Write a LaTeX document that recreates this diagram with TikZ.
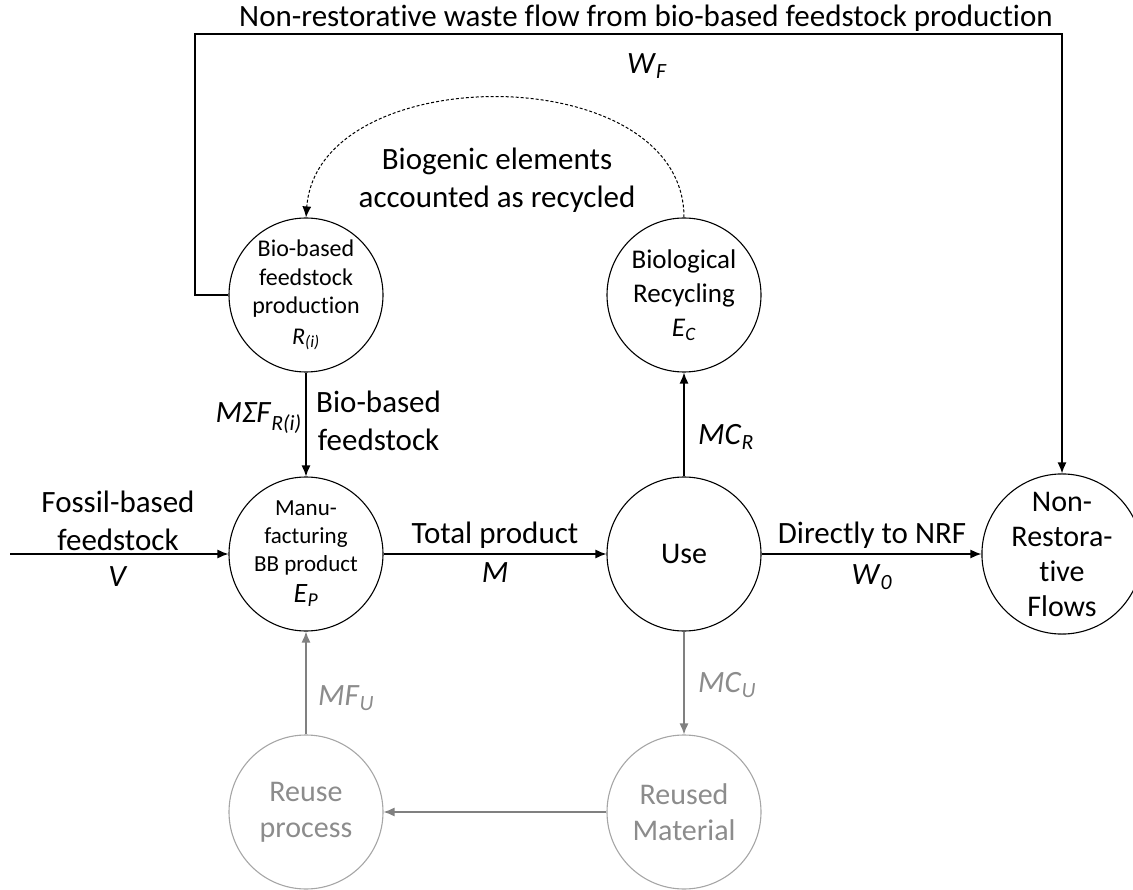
\documentclass[tikz,border=0pt]{standalone}
\usepackage{fontspec}
\setmainfont{Carlito}[Ligatures=NoCommon]
\usetikzlibrary{arrows.meta}
\definecolor{gryc}{HTML}{A6A6A6}
\definecolor{grya}{HTML}{808080}
\definecolor{gryt}{HTML}{8C8C8C}
\newcommand{\fsz}[2]{\fontsize{#1}{#2}\selectfont}
\begin{document}
\begin{tikzpicture}[x=1pt,y=-1pt,
  proc/.style={circle,draw,line width=1.1pt,minimum size=154pt,inner sep=0pt,align=center},
  greyproc/.style={proc,draw=gryc,text=gryt},
  flow/.style={line width=1.3pt,-{Latex[length=11pt,width=9pt]}},
  greyflow/.style={flow,draw=grya,-{Latex[length=11pt,width=9pt]},color=grya},
  lbl/.style={align=center,inner sep=0pt,font=\fsz{31}{38}}
]
\useasboundingbox (0,0) rectangle (1133,890);

% process nodes
\node[proc,font=\fsz{24}{28.5}] (feed) at (306,295) {Bio-based\\feedstock\\production\\[2pt]\textit{R}\textsubscript{\textit{(i)}}};
\node[proc,font=\fsz{23}{28}] (manu) at (306,554) {Manu-\\facturing\\BB product\\[3pt]{\fsz{28}{30}\textit{E}\textsubscript{\textit{P}}}};
\node[proc,font=\fsz{27}{34}] (bio) at (684,295) {Biological\\Recycling\\\textit{E}\textsubscript{\textit{C}}};
\node[proc,font=\fsz{30}{36}] (use) at (684,554) {Use};
\node[proc,font=\fsz{30}{35}] (nrf) at (1062,554) {Non-\\Restora-\\tive\\Flows};
\node[greyproc,font=\fsz{30}{36}] (reuse) at (306,812) {Reuse\\process};
\node[greyproc,font=\fsz{30}{36}] (reused) at (684,812) {Reused\\Material};

% helper coordinates
\coordinate (src) at (10,554);
\coordinate (tl) at (195,34);
\coordinate (tr) at (1062,34);

% connectors
\draw[flow] (src) -- (manu);
\draw[flow] (feed) -- (manu);
\draw[flow] (manu) -- (use);
\draw[flow] (use) -- (bio);
\draw[flow] (use) -- (nrf);
\draw[flow] (feed.west) -| (tl) -- (tr) -- (nrf.north);
\draw[line width=1pt,dash pattern=on 3pt off 2pt,-{Latex[length=11pt,width=9pt]}] (bio.north) .. controls (684,58) and (318,58) .. (feed.north);
\draw[greyflow] (use) -- (reused);
\draw[greyflow] (reused) -- (reuse);
\draw[greyflow] (reuse) -- (manu);

% labels
\node[lbl,anchor=base] (toplbl) at (646,27) {Non-restorative waste flow from bio-based feedstock production};
\node[lbl] (wf) at (647,66) {\textit{W}\textsubscript{\textit{F}}};
\node[lbl] (biog) at (497,180) {Biogenic elements\\accounted as recycled};
\node[lbl,anchor=east] (msf) at (302,418) {\textit{MΣF}\textsubscript{\textit{R(i)}}};
\node[lbl,anchor=west] (bbf) at (316,421) {Bio-based\\feedstock};
\node[lbl] (fos) at (118,521) {Fossil-based\\feedstock};
\node[lbl] (v) at (118,577) {\textit{V}};
\node[lbl] (tp) at (495,535) {Total product};
\node[lbl] (m) at (495,573) {\textit{M}};
\node[lbl] (dn) at (872,535) {Directly to NRF};
\node[lbl] (w0) at (872,577) {\textit{W}\textsubscript{\textit{0}}};
\node[lbl,anchor=west] (mcr) at (698,437) {\textit{MC}\textsubscript{\textit{R}}};
\node[lbl,anchor=west,text=gryt] (mcu) at (698,685) {\textit{MC}\textsubscript{\textit{U}}};
\node[lbl,anchor=west,text=gryt] (mfu) at (318,698) {\textit{MF}\textsubscript{\textit{U}}};
\end{tikzpicture}
\end{document}
